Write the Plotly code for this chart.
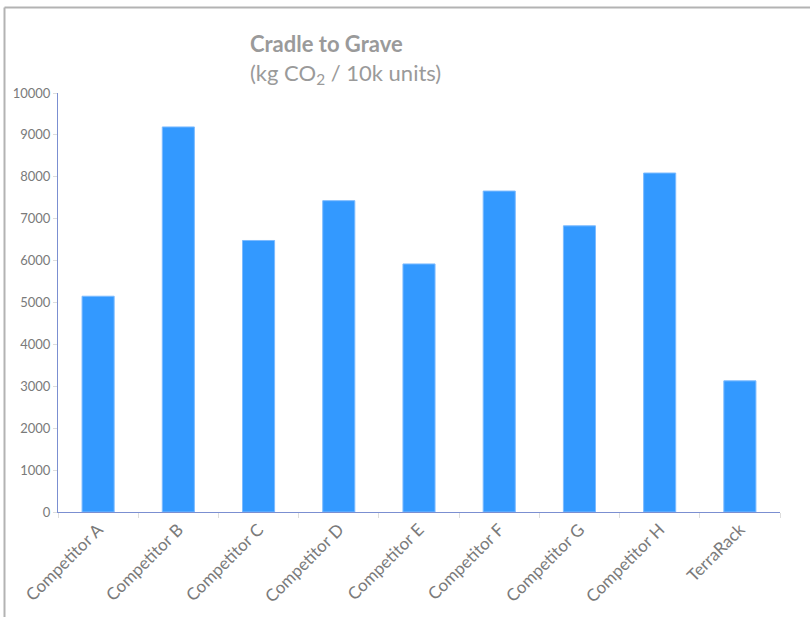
import plotly.graph_objects as go

categories = ["Competitor A", "Competitor B", "Competitor C", "Competitor D",
              "Competitor E", "Competitor F", "Competitor G", "Competitor H",
              "TerraRack"]
emissions = [5150, 9190, 6480, 7430, 5920, 7660, 6830, 8090, 3130]
y_ticks = [0, 1000, 2000, 3000, 4000, 5000, 6000, 7000, 8000, 9000, 10000]
y_tick_labels = [str(v) for v in y_ticks]

FONT = "Lato, Open Sans, sans-serif"
AXIS_BLUE = "#7b8fd1"

fig = go.Figure(
    go.Bar(
        x=categories,
        y=emissions,
        marker=dict(color="#3399ff", line=dict(color="#7dbbff", width=1)),
        hoverinfo="x+y",
    )
)

fig.update_layout(
    width=810,
    height=617,
    margin=dict(l=58, r=30, t=93, b=105),
    paper_bgcolor="white",
    plot_bgcolor="white",
    bargap=0.6,
    showlegend=False,
    font=dict(family=FONT, color="#666666"),
)

fig.update_xaxes(
    showline=True,
    linecolor=AXIS_BLUE,
    linewidth=1,
    showgrid=False,
    ticks="outside",
    tickson="boundaries",
    ticklen=5,
    tickcolor="#dddddd",
    tickangle=-45,
    tickfont=dict(size=17, color="#7a7a7a"),
)

fig.update_yaxes(
    range=[0, 10000],
    tickvals=y_ticks,
    ticktext=y_tick_labels,
    showline=True,
    linecolor=AXIS_BLUE,
    linewidth=1,
    showgrid=False,
    zeroline=False,
    ticks="outside",
    ticklen=4,
    tickcolor="#dddddd",
    tickfont=dict(size=13, color="#7a7a7a"),
)

# Chart heading: bold title with the unit line beneath it
fig.add_annotation(
    text="<b>Cradle to Grave</b><br>(kg CO<sub>2</sub> / 10k units)",
    xref="paper", yref="paper", x=0.263, y=1.080,
    xanchor="left", yanchor="middle", align="left", showarrow=False,
    font=dict(size=22, color="#9a9a9a", family=FONT),
)

# Frame lines along the top and left edges
fig.add_shape(type="line", xref="paper", yref="paper",
              x0=-0.0741, x1=1.05, y0=1.204, y1=1.204,
              line=dict(color="#b3b3b3", width=2))
fig.add_shape(type="line", xref="paper", yref="paper",
              x0=-0.0741, x1=-0.0741, y0=1.204, y1=-0.26,
              line=dict(color="#b3b3b3", width=2))

fig.write_html("out.html")
